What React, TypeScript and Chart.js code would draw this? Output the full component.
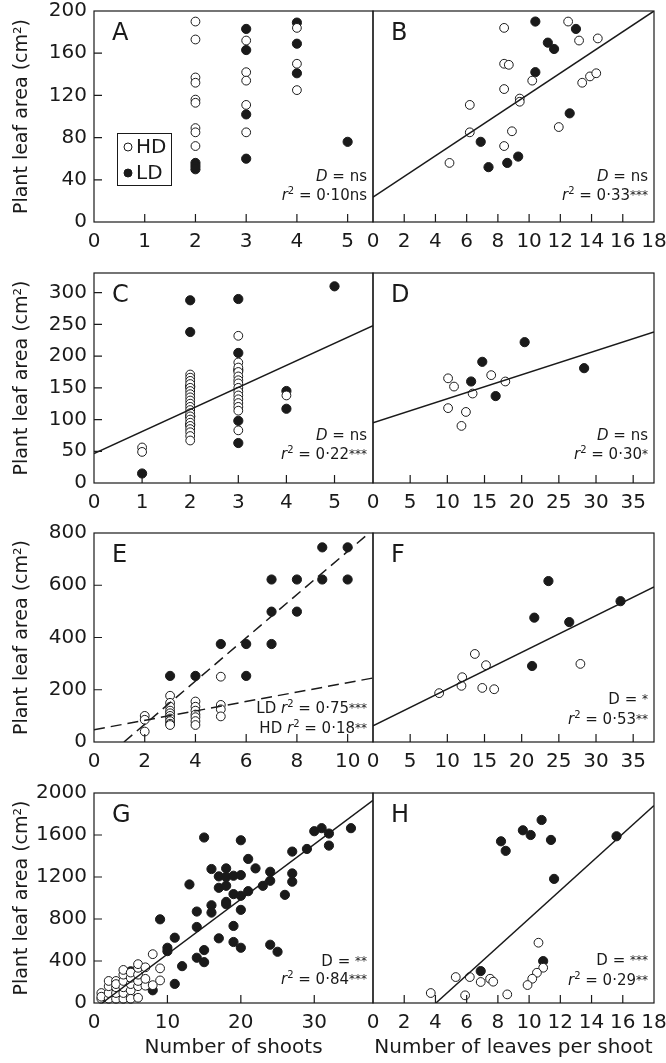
import React, { useEffect, useRef } from "react";
import { Chart, registerables } from "chart.js";
Chart.register(...registerables);

const FONT = "'DejaVu Sans', 'Liberation Sans', sans-serif";
const INK = "#1a1a1a";

// ---------- Panel A : plant leaf area vs number of shoots ----------
const aHdX = [2, 2, 2, 2, 2, 2, 2, 2, 2, 3, 3, 3, 3, 3, 4, 4, 4];
const aHdY = [190, 173, 137, 132, 116, 113, 89, 85, 72, 172, 142, 134, 111, 85, 184, 150, 125];
const aLdX = [2, 2, 2, 3, 3, 3, 3, 4, 4, 4, 5];
const aLdY = [56, 53, 50, 183, 163, 102, 60, 189, 169, 141, 76];

// ---------- Panel B : vs leaves per shoot ----------
const bHdX = [8.4, 12.5, 13.2, 14.4, 8.4, 8.7, 10.2, 13.4, 13.9, 14.3, 8.4, 9.4, 9.4, 6.2, 6.2, 8.9, 11.9, 8.4, 4.9];
const bHdY = [184, 190, 172, 174, 150, 149, 134, 132, 138, 141, 126, 117, 114, 111, 85, 86, 90, 72, 56];
const bLdX = [10.4, 13.0, 11.2, 11.6, 10.4, 12.6, 6.9, 7.4, 8.6, 9.3];
const bLdY = [190, 183, 170, 164, 142, 103, 76, 52, 56, 62];
const bLineX = [0, 18];
const bLineY = [23.5, 200];

// ---------- Panel C ----------
const cHdX = [1, 1,
  2, 2, 2, 2, 2, 2, 2, 2, 2, 2, 2, 2, 2, 2, 2, 2, 2, 2, 2, 2, 2,
  3, 3, 3, 3, 3, 3, 3, 3, 3, 3, 3, 3, 3, 3, 3,
  4];
const cHdY = [56, 49,
  171, 166, 161, 156, 150, 145, 140, 135, 130, 125, 120, 115, 110, 105, 100, 95, 90, 85, 80, 74, 67,
  232, 190, 182, 175, 168, 162, 157, 150, 144, 138, 132, 126, 120, 114, 83,
  138];
const cLdX = [1, 2, 2, 2, 2, 2, 3, 3, 3, 3, 3, 4, 4, 5];
const cLdY = [15, 288, 238, 152, 105, 92, 290, 205, 178, 98, 63, 145, 117, 310];
const cLineX = [0, 5.8];
const cLineY = [46.5, 248];

// ---------- Panel D ----------
const dHdX = [10.1, 10.9, 15.9, 17.8, 13.4, 10.1, 12.5, 11.9];
const dHdY = [165, 152, 170, 160, 141, 118, 112, 90];
const dLdX = [20.4, 14.7, 13.2, 16.5, 28.4];
const dLdY = [222, 191, 160, 137, 181];
const dLineX = [0, 37.8];
const dLineY = [95, 238];

// ---------- Panel E ----------
const eHdX = [2, 2, 2, 3, 3, 3, 3, 3, 3, 3, 3, 3, 3, 4, 4, 4, 4, 4, 4, 4, 5, 5, 5, 5];
const eHdY = [100, 85, 40, 177, 150, 135, 120, 110, 100, 90, 80, 70, 65, 155, 135, 120, 105, 95, 80, 65, 250, 142, 125, 98];
const eLdX = [3, 4, 6, 5, 6, 7, 7, 8, 7, 8, 9, 10, 9, 10];
const eLdY = [253, 253, 253, 375, 375, 375, 499, 499, 622, 622, 622, 622, 745, 745];
const eLdLineX = [1.18, 10.85];
const eLdLineY = [0, 800];
const eHdLineX = [0, 11];
const eHdLineY = [47, 245];

// ---------- Panel F ----------
const fHdX = [13.7, 15.2, 12.0, 11.9, 14.7, 16.3, 8.9, 27.9];
const fHdY = [337, 294, 248, 215, 207, 202, 187, 299];
const fLdX = [23.6, 21.7, 26.4, 33.3, 21.4];
const fLdY = [616, 476, 459, 539, 291];
const fLineX = [0, 37.8];
const fLineY = [62, 594];

// ---------- Panel G ----------
const gHdX = [1, 1, 1, 2, 2, 2, 2, 3, 3, 3, 3, 3, 4, 4, 4, 4, 4, 4, 5, 5, 5, 5, 5, 5, 6, 6, 6, 6, 6, 6, 7, 7, 7, 8, 8, 9, 9];
const gHdY = [40, 95, 60, 40, 95, 160, 210, 40, 95, 150, 210, 180, 40, 95, 150, 210, 270, 315, 60, 120, 180, 240, 290, 40, 50, 160, 210, 270, 335, 370, 165, 340, 230, 170, 465, 215, 330];
const gLdX = [15, 20, 35, 30, 31, 32, 32, 29, 27, 16, 18, 21, 22, 24, 27, 27, 24, 17, 18, 19, 20, 13, 17, 18, 19, 20, 21, 23, 26, 18, 18, 16, 16, 14, 20, 9, 14, 19, 17, 19, 20, 24, 25, 11, 10, 10, 15, 14, 15, 12, 11, 8, 5, 5];
const gLdY = [1576, 1550, 1665, 1636, 1665, 1614, 1499, 1467, 1442, 1276, 1282, 1372, 1282, 1250, 1234, 1155, 1164, 1206, 1199, 1212, 1218, 1129, 1097, 1116, 1037, 1021, 1065, 1116, 1030, 963, 941, 931, 861, 871, 887, 797, 724, 734, 616, 581, 526, 555, 488, 622, 526, 494, 504, 431, 389, 351, 182, 121, 302, 48];
const gLineX = [1.1, 38];
const gLineY = [0, 1930];

// ---------- Panel H ----------
const hHdX = [10.6, 10.9, 10.5, 10.2, 9.9, 5.3, 6.2, 6.9, 7.5, 7.7, 5.9, 3.7, 8.6];
const hHdY = [574, 336, 288, 231, 171, 247, 247, 200, 231, 203, 73, 95, 82];
const hLdX = [10.8, 9.6, 10.1, 8.2, 8.5, 11.4, 15.6, 11.6, 10.9, 6.9];
const hLdY = [1743, 1645, 1600, 1540, 1449, 1553, 1588, 1182, 399, 304];
const hLineX = [4.03, 18];
const hLineY = [0, 1880];

const Y_TITLE = "Plant leaf area (cm²)";

type Seg = [string, string];
interface LineDef { x: number[]; y: number[]; dash?: number[] }
interface PanelCfg {
  letter: string;
  col: 0 | 1;
  plotTop: number;
  plotH: number;
  xMax: number;
  xStep: number;
  yMax: number;
  yStep: number;
  hd: [number[], number[]];
  ld: [number[], number[]];
  lines: LineDef[];
  notes: { segs: Seg[]; dy: number }[];
  xTitle?: string;
  legend?: boolean;
}

const dNs: Seg[] = [["D", "i"], [" = ns", ""]];
const r2 = (v: string, stars: string, prefix = ""): Seg[] => {
  const s: Seg[] = [];
  if (prefix) s.push([prefix, ""]);
  s.push(["r", "i"], ["2", "s"], [" = " + v, ""]);
  if (stars) s.push([stars, "a"]);
  return s;
};

const panels: PanelCfg[] = [
  {
    letter: "A", col: 0, plotTop: 11, plotH: 211, xMax: 5.5, xStep: 1, yMax: 200, yStep: 40,
    hd: [aHdX, aHdY], ld: [aLdX, aLdY], lines: [], legend: true,
    notes: [{ segs: dNs, dy: 46 }, { segs: [["r", "i"], ["2", "s"], [" = 0·10ns", ""]], dy: 27 }],
  },
  {
    letter: "B", col: 1, plotTop: 11, plotH: 211, xMax: 18, xStep: 2, yMax: 200, yStep: 40,
    hd: [bHdX, bHdY], ld: [bLdX, bLdY], lines: [{ x: bLineX, y: bLineY }],
    notes: [{ segs: dNs, dy: 46 }, { segs: r2("0·33", "***"), dy: 27 }],
  },
  {
    letter: "C", col: 0, plotTop: 273, plotH: 210, xMax: 5.8, xStep: 1, yMax: 331, yStep: 50,
    hd: [cHdX, cHdY], ld: [cLdX, cLdY], lines: [{ x: cLineX, y: cLineY }],
    notes: [{ segs: dNs, dy: 48 }, { segs: r2("0·22", "***"), dy: 29 }],
  },
  {
    letter: "D", col: 1, plotTop: 273, plotH: 210, xMax: 37.8, xStep: 5, yMax: 331, yStep: 50,
    hd: [dHdX, dHdY], ld: [dLdX, dLdY], lines: [{ x: dLineX, y: dLineY }],
    notes: [{ segs: dNs, dy: 48 }, { segs: r2("0·30", "*"), dy: 29 }],
  },
  {
    letter: "E", col: 0, plotTop: 533, plotH: 209, xMax: 11, xStep: 2, yMax: 800, yStep: 200,
    hd: [eHdX, eHdY], ld: [eLdX, eLdY],
    lines: [{ x: eLdLineX, y: eLdLineY, dash: [11, 6] }, { x: eHdLineX, y: eHdLineY, dash: [11, 6] }],
    notes: [{ segs: r2("0·75", "***", "LD "), dy: 34 }, { segs: r2("0·18", "**", "HD "), dy: 14 }],
  },
  {
    letter: "F", col: 1, plotTop: 533, plotH: 209, xMax: 37.8, xStep: 5, yMax: 800, yStep: 200,
    hd: [fHdX, fHdY], ld: [fLdX, fLdY], lines: [{ x: fLineX, y: fLineY }],
    notes: [{ segs: [["D = ", ""], ["*", "a"]], dy: 43 }, { segs: r2("0·53", "**"), dy: 23 }],
  },
  {
    letter: "G", col: 0, plotTop: 793, plotH: 210, xMax: 38, xStep: 10, yMax: 2000, yStep: 400,
    hd: [gHdX, gHdY], ld: [gLdX, gLdY], lines: [{ x: gLineX, y: gLineY }], xTitle: "Number of shoots",
    notes: [{ segs: [["D = ", ""], ["**", "a"]], dy: 42 }, { segs: r2("0·84", "***"), dy: 24 }],
  },
  {
    letter: "H", col: 1, plotTop: 793, plotH: 210, xMax: 18, xStep: 2, yMax: 2000, yStep: 400,
    hd: [hHdX, hHdY], ld: [hLdX, hLdY], lines: [{ x: hLineX, y: hLineY }], xTitle: "Number of leaves per shoot",
    notes: [{ segs: [["D = ", ""], ["***", "a"]], dy: 43 }, { segs: r2("0·29", "**"), dy: 23 }],
  },
];

function drawRich(ctx: CanvasRenderingContext2D, segs: Seg[], right: number, cy: number, size: number) {
  const fontFor = (st: string) =>
    st === "s" ? `${Math.round(size * 0.68)}px ${FONT}` :
    st === "a" ? `${Math.round(size * 0.78)}px ${FONT}` :
    st === "i" ? `italic ${size}px ${FONT}` : `${size}px ${FONT}`;
  let total = 0;
  const widths = segs.map(([t, st]) => {
    ctx.font = fontFor(st);
    const w = ctx.measureText(t).width;
    total += w;
    return w;
  });
  let x = right - total;
  const base = cy + size * 0.36;
  ctx.textAlign = "left";
  ctx.textBaseline = "alphabetic";
  segs.forEach(([t, st], i) => {
    ctx.font = fontFor(st);
    const off = st === "s" ? size * 0.42 : st === "a" ? size * 0.12 : 0;
    ctx.fillText(t, x, base - off);
    x += widths[i];
  });
}

function makeDeco(cfg: PanelCfg) {
  return {
    id: "deco" + cfg.letter,
    afterDatasetsDraw(chart: any) {
      const { ctx, chartArea: ca, scales } = chart;
      const xs = scales.x;
      const ys = scales.y;
      ctx.save();
      ctx.strokeStyle = INK;
      ctx.lineWidth = 1.2;
      ctx.strokeRect(ca.left, ca.top, ca.right - ca.left, ca.bottom - ca.top);
      ctx.beginPath();
      xs.ticks.forEach((t: any) => {
        if (t.value <= xs.min || t.value >= xs.max) return;
        const px = xs.getPixelForValue(t.value);
        ctx.moveTo(px, ca.bottom);
        ctx.lineTo(px, ca.bottom - 8);
      });
      if (cfg.col === 0) {
        ys.ticks.forEach((t: any) => {
          if (t.value <= ys.min || t.value >= ys.max) return;
          const py = ys.getPixelForValue(t.value);
          ctx.moveTo(ca.left, py);
          ctx.lineTo(ca.left + 8, py);
        });
      }
      ctx.stroke();

      ctx.fillStyle = INK;
      ctx.font = `24px ${FONT}`;
      ctx.textAlign = "left";
      ctx.textBaseline = "middle";
      ctx.fillText(cfg.letter, ca.left + 18, ca.top + 23);

      cfg.notes.forEach((n) => drawRich(ctx, n.segs, ca.right - 6, ca.bottom - n.dy, 15));

      if (cfg.legend) {
        ctx.lineWidth = 1;
        ctx.strokeRect(ca.left + 23.5, ca.top + 122.5, 54, 52);
        const items: [string, string][] = [["HD", "#ffffff"], ["LD", INK]];
        items.forEach(([label, fill], i) => {
          const cy = ca.top + 136 + i * 26;
          ctx.beginPath();
          ctx.arc(ca.left + 34, cy, 4, 0, Math.PI * 2);
          ctx.fillStyle = fill;
          ctx.fill();
          ctx.strokeStyle = INK;
          ctx.stroke();
          ctx.fillStyle = INK;
          ctx.font = `20px ${FONT}`;
          ctx.textBaseline = "middle";
          ctx.fillText(label, ca.left + 42, cy + 1);
        });
      }
      ctx.restore();
    },
  };
}

const toPts = (xs: number[], ys: number[]) => xs.map((x, i) => ({ x, y: ys[i] }));

function Panel({ cfg }: { cfg: PanelCfg }) {
  const ref = useRef<HTMLCanvasElement>(null);
  const padTop = 15;
  const xH = cfg.xTitle ? 60 : 35;
  const left = cfg.col === 0 ? 0 : 353;
  const width = cfg.col === 0 ? 393 : 313;
  const height = padTop + cfg.plotH + xH;
  const top = cfg.plotTop - padTop;

  useEffect(() => {
    const tickFont = { family: FONT, size: 20 };
    const datasets: any[] = [];
    cfg.lines.forEach((l) => {
      datasets.push({
        data: toPts(l.x, l.y),
        showLine: true,
        pointRadius: 0,
        borderColor: INK,
        borderWidth: 1.5,
        borderDash: l.dash || [],
        clip: 0,
      });
    });
    datasets.push({
      data: toPts(cfg.hd[0], cfg.hd[1]),
      pointRadius: 4.4,
      backgroundColor: "#ffffff",
      borderColor: INK,
      borderWidth: 1,
      clip: false,
    });
    datasets.push({
      data: toPts(cfg.ld[0], cfg.ld[1]),
      pointRadius: 4.6,
      backgroundColor: INK,
      borderColor: INK,
      borderWidth: 1,
      clip: false,
    });
    const isLeft = cfg.col === 0;
    const chart = new Chart(ref.current as HTMLCanvasElement, {
      type: "scatter",
      data: { datasets },
      options: {
        animation: false,
        responsive: false,
        devicePixelRatio: 1,
        events: [],
        layout: {
          padding: { top: padTop, bottom: 0, left: isLeft ? 0 : 20, right: isLeft ? 20 : 12 },
        },
        plugins: { legend: { display: false }, tooltip: { enabled: false } },
        scales: {
          x: {
            type: "linear",
            min: 0,
            max: cfg.xMax,
            grid: { display: false, drawTicks: false },
            border: { display: false },
            ticks: {
              stepSize: cfg.xStep, includeBounds: false, font: tickFont, color: INK, padding: 8,
              maxRotation: 0, autoSkip: false, callback: (v: any) => String(v),
            },
            title: cfg.xTitle
              ? { display: true, text: cfg.xTitle, font: { family: FONT, size: 20 }, color: INK, padding: { top: 0, bottom: 3 } }
              : { display: false },
            afterFit: (s: any) => {
              s.height = xH;
              s.paddingLeft = 0;
              s.paddingRight = 0;
            },
          },
          y: {
            type: "linear",
            min: 0,
            max: cfg.yMax,
            display: isLeft,
            grid: { display: false, drawTicks: false },
            border: { display: false },
            ticks: {
              stepSize: cfg.yStep, includeBounds: false, font: tickFont, color: INK, padding: 7,
              callback: (v: any) => String(v),
            },
            title: { display: isLeft, text: Y_TITLE, font: { family: FONT, size: 19 }, color: INK, padding: { top: 11, bottom: 0 } },
            afterFit: (s: any) => {
              s.width = isLeft ? 94 : 0;
              s.paddingTop = 0;
              s.paddingBottom = 0;
            },
          },
        },
      } as any,
      plugins: [makeDeco(cfg)],
    });
    return () => chart.destroy();
  }, []);

  return (
    <canvas
      ref={ref}
      width={width}
      height={height}
      style={{ position: "absolute", left, top, width, height }}
    />
  );
}

export default function App() {
  return (
    <div style={{ position: "absolute", left: 0, top: 0, width: 666, height: 1063, overflow: "hidden", background: "#fff" }}>
      {panels.map((p) => (
        <Panel key={p.letter} cfg={p} />
      ))}
    </div>
  );
}
